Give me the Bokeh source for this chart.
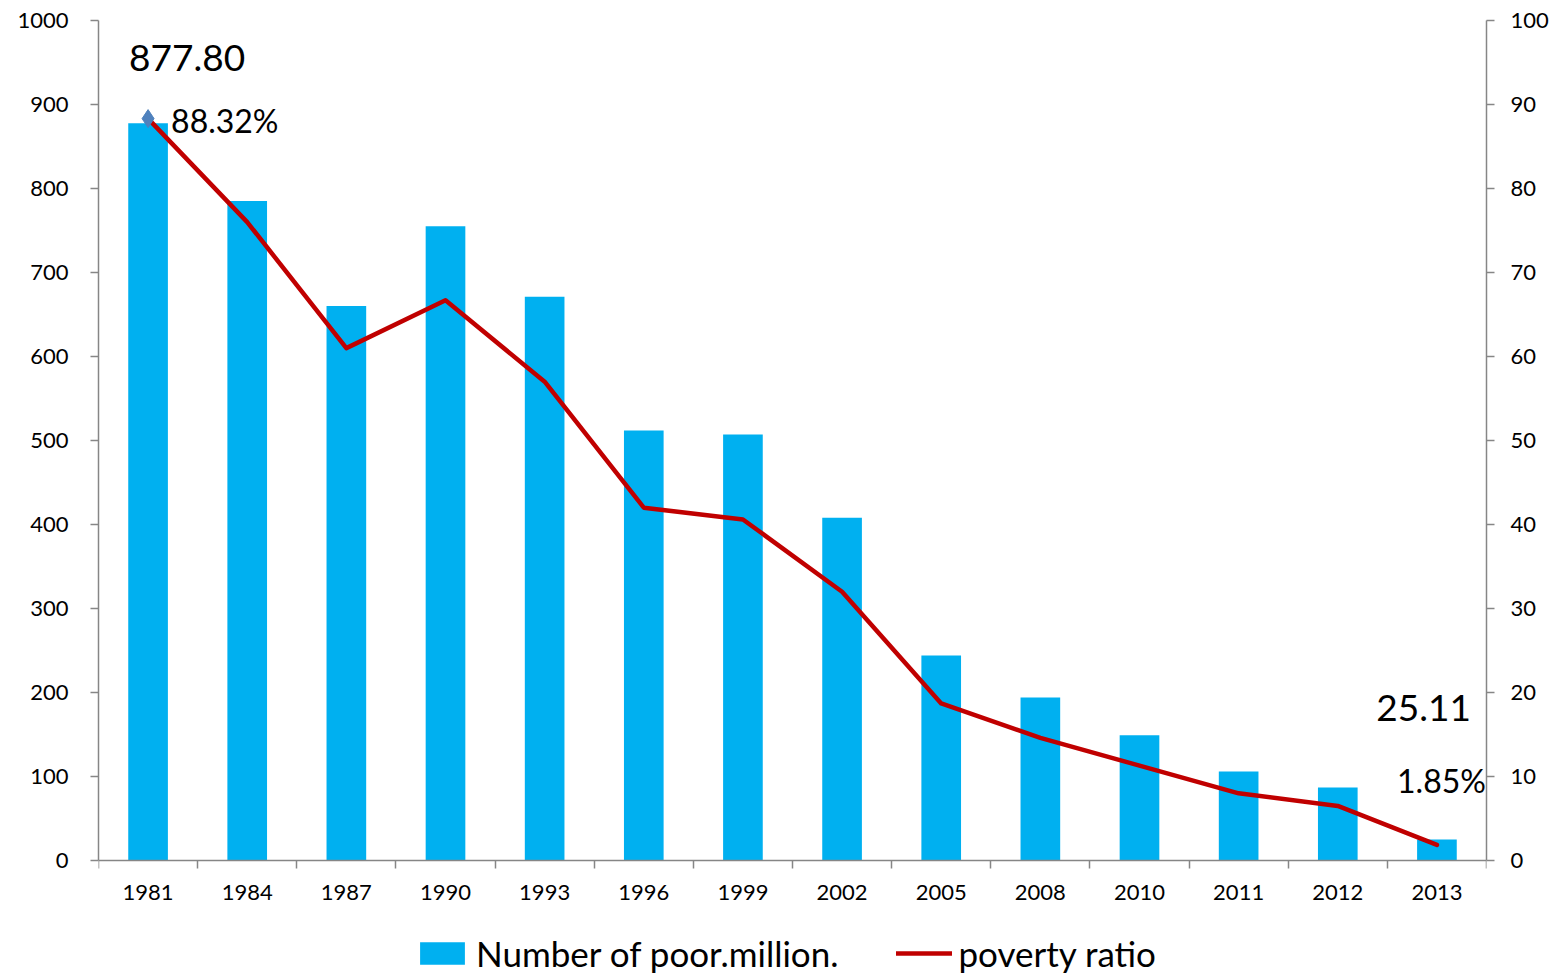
import numpy as np
from bokeh.plotting import figure
from bokeh.models import (Range1d, LinearAxis, FixedTicker, Legend, LegendItem)
from bokeh.core.properties import value
from bokeh.embed import file_html
from bokeh.resources import INLINE

years = ["1981", "1984", "1987", "1990", "1993", "1996", "1999", "2002",
         "2005", "2008", "2010", "2011", "2012", "2013"]
poor_million = [877.80, 785, 660, 755, 671, 512, 507, 408, 244, 194, 149, 106, 87, 25.11]
poverty_ratio = [88.32, 76.0, 61.0, 66.7, 57.0, 42.0, 40.6, 32.0, 18.7, 14.6, 11.3, 8.0, 6.5, 1.85]
left_ticks = list(range(0, 1001, 100))
right_ticks = list(range(0, 101, 10))

FONT = "Lato"
BAR = "#00B0F0"
LINE = "#C00000"
AXIS = "#868686"

n = len(years)
xs = [i + 0.5 for i in range(n)]

# layout: axes span 840 px for 0..1000; frame extends below to hold the legend
AXIS_PX = 840
FRAME_H = 954
left_max, right_max = 1000, 100
extra = (FRAME_H - AXIS_PX) / AXIS_PX

p = figure(frame_width=1388, frame_height=FRAME_H, output_backend="svg", toolbar_location=None,
           x_range=Range1d(0, n), y_range=Range1d(-left_max * extra, left_max),
           min_border_left=98, min_border_right=71, min_border_top=20, min_border_bottom=0)
p.outline_line_color = None
p.xgrid.visible = False
p.ygrid.visible = False
p.background_fill_color = "white"

p.extra_y_ranges = {"right": Range1d(-right_max * extra, right_max)}

bars = p.vbar(x=xs, top=poor_million, width=0.4, color=BAR, line_color=None)
line = p.line(x=xs, y=poverty_ratio, y_range_name="right", line_color=LINE,
              line_width=4.5, line_join="round", line_cap="round")
p.scatter(x=[xs[0]], y=[poverty_ratio[0]], y_range_name="right", marker="diamond",
          size=18, color="#4F81BD", line_color="#4F81BD")

# data labels
p.text(x=[xs[0]], y=[poor_million[0]], text=[f"{poor_million[0]:.2f}"],
       text_font=value(FONT), text_font_size="37px", text_align="left",
       text_baseline="middle", x_offset=-19, y_offset=-65, text_color="black")
p.text(x=[xs[0]], y=[poverty_ratio[0]], y_range_name="right", text=[f"{poverty_ratio[0]:.2f}%"],
       text_font=value(FONT), text_font_size="32px", text_align="left",
       text_baseline="middle", x_offset=23, y_offset=2, text_color="black")
p.text(x=[xs[-1]], y=[poor_million[-1]], text=[f"{poor_million[-1]:.2f}"],
       text_font=value(FONT), text_font_size="37px", text_align="right",
       text_baseline="middle", x_offset=34, y_offset=-131, text_color="black")
p.text(x=[xs[-1]], y=[poverty_ratio[-1]], y_range_name="right", text=[f"{poverty_ratio[-1]:.2f}%"],
       text_font=value(FONT), text_font_size="32px", text_align="right",
       text_baseline="middle", x_offset=49, y_offset=-64, text_color="black")

# x axis, fixed at y = 0
xa = p.xaxis[0]
xa.fixed_location = 0
xa.ticker = FixedTicker(ticks=xs, minor_ticks=list(range(n + 1)))
xa.major_label_overrides = {x: y for x, y in zip(xs, years)}
xa.major_tick_out = 0
xa.major_tick_in = 0
xa.minor_tick_out = 8
xa.minor_tick_in = 0
xa.minor_tick_line_color = AXIS
xa.minor_tick_line_width = 1.5
xa.axis_line_color = AXIS
xa.axis_line_width = 1.5
xa.major_label_text_font = FONT
xa.major_label_text_font_size = "22px"
xa.major_label_text_color = "black"
xa.major_label_standoff = 16

# left axis
ya = p.yaxis[0]
ya.ticker = FixedTicker(ticks=left_ticks)
ya.bounds = (0, left_max)
ya.minor_tick_line_color = None
ya.major_tick_out = 8
ya.major_tick_in = 0
ya.major_tick_line_color = AXIS
ya.major_tick_line_width = 1.5
ya.axis_line_color = AXIS
ya.axis_line_width = 1.5
ya.major_label_text_font = FONT
ya.major_label_text_font_size = "22px"
ya.major_label_text_color = "black"
ya.major_label_standoff = 22

# right axis
ra = LinearAxis(y_range_name="right", ticker=FixedTicker(ticks=right_ticks), bounds=(0, right_max))
ra.minor_tick_line_color = None
ra.major_tick_out = 8
ra.major_tick_in = 0
ra.major_tick_line_color = AXIS
ra.major_tick_line_width = 1.5
ra.axis_line_color = AXIS
ra.axis_line_width = 1.5
ra.major_label_text_font = FONT
ra.major_label_text_font_size = "22px"
ra.major_label_text_color = "black"
ra.major_label_standoff = 16
p.add_layout(ra, "right")

legend = Legend(items=[LegendItem(label="Number of poor.million.", renderers=[bars]),
                       LegendItem(label="poverty ratio", renderers=[line])],
                orientation="horizontal", location=(316, 0),
                glyph_width=56, glyph_height=28,
                label_text_font=FONT, label_text_font_size="35px",
                label_text_color="black",
                label_standoff=6, spacing=58, padding=0, margin=0,
                border_line_color=None, background_fill_alpha=0)
p.add_layout(legend)

open("out.html", "w").write(file_html(p, INLINE))
